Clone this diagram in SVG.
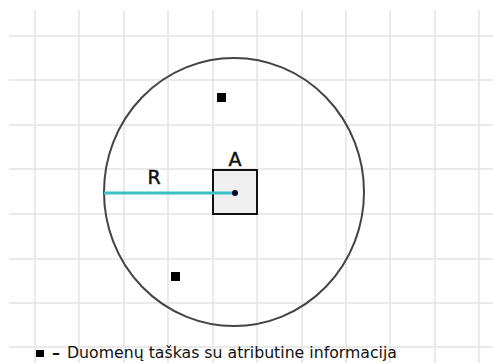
<svg xmlns="http://www.w3.org/2000/svg" width="493" height="363" viewBox="0 0 493 363">
<style>
.grid line{stroke:#e3e3e3;stroke-width:1.5}
.lbl{font-family:"DejaVu Sans",Verdana,sans-serif;fill:#111}
.big{font-size:19px;stroke:#111;stroke-width:0.5}
.pt{fill:#000}
</style>
<rect width="493" height="363" fill="#fff"/>
<g class="grid" id="grid">
<line x1="35" y1="10" x2="35" y2="363"/>
<line x1="79" y1="10" x2="79" y2="363"/>
<line x1="124" y1="10" x2="124" y2="363"/>
<line x1="168" y1="10" x2="168" y2="363"/>
<line x1="213" y1="10" x2="213" y2="363"/>
<line x1="257" y1="10" x2="257" y2="363"/>
<line x1="302" y1="10" x2="302" y2="363"/>
<line x1="346" y1="10" x2="346" y2="363"/>
<line x1="390" y1="10" x2="390" y2="363"/>
<line x1="435" y1="10" x2="435" y2="363"/>
<line x1="479" y1="10" x2="479" y2="363"/>
<line x1="9" y1="36" x2="493" y2="36"/>
<line x1="9" y1="80" x2="493" y2="80"/>
<line x1="9" y1="125" x2="493" y2="125"/>
<line x1="9" y1="169" x2="493" y2="169"/>
<line x1="9" y1="214" x2="493" y2="214"/>
<line x1="9" y1="259" x2="493" y2="259"/>
<line x1="9" y1="303" x2="493" y2="303"/>
<line x1="9" y1="347" x2="493" y2="347"/>
</g>
<g id="circle">
<ellipse cx="234" cy="192" rx="130" ry="134" fill="none" stroke="#444" stroke-width="2"/>
</g>
<g id="A">
<rect x="213" y="170" width="44" height="44" fill="#efefef" stroke="#111" stroke-width="2"/>
<text class="lbl big" x="235" y="166" text-anchor="middle">A</text>
</g>
<g id="connectors">
<line x1="104" y1="193" x2="233" y2="193" stroke="#3dbfc6" stroke-width="3"/>
</g>
<g id="center">
<circle cx="235" cy="193" r="3" fill="#0a0a2a"/>
</g>
<g id="R">
<text class="lbl big" x="154" y="184" text-anchor="middle">R</text>
</g>
<g id="p1"><rect class="pt" x="217" y="93" width="9" height="9"/></g>
<g id="p2"><rect class="pt" x="171" y="272" width="9" height="9"/></g>
<g id="legend">
<rect class="pt" x="36" y="350" width="8" height="7"/>
<text class="lbl" x="52" y="358" font-size="16" font-weight="bold">–</text>
<text class="lbl" x="67" y="358" font-size="15.5" textLength="330" lengthAdjust="spacingAndGlyphs">Duomenų taškas su atributine informacija</text>
</g>
</svg>
